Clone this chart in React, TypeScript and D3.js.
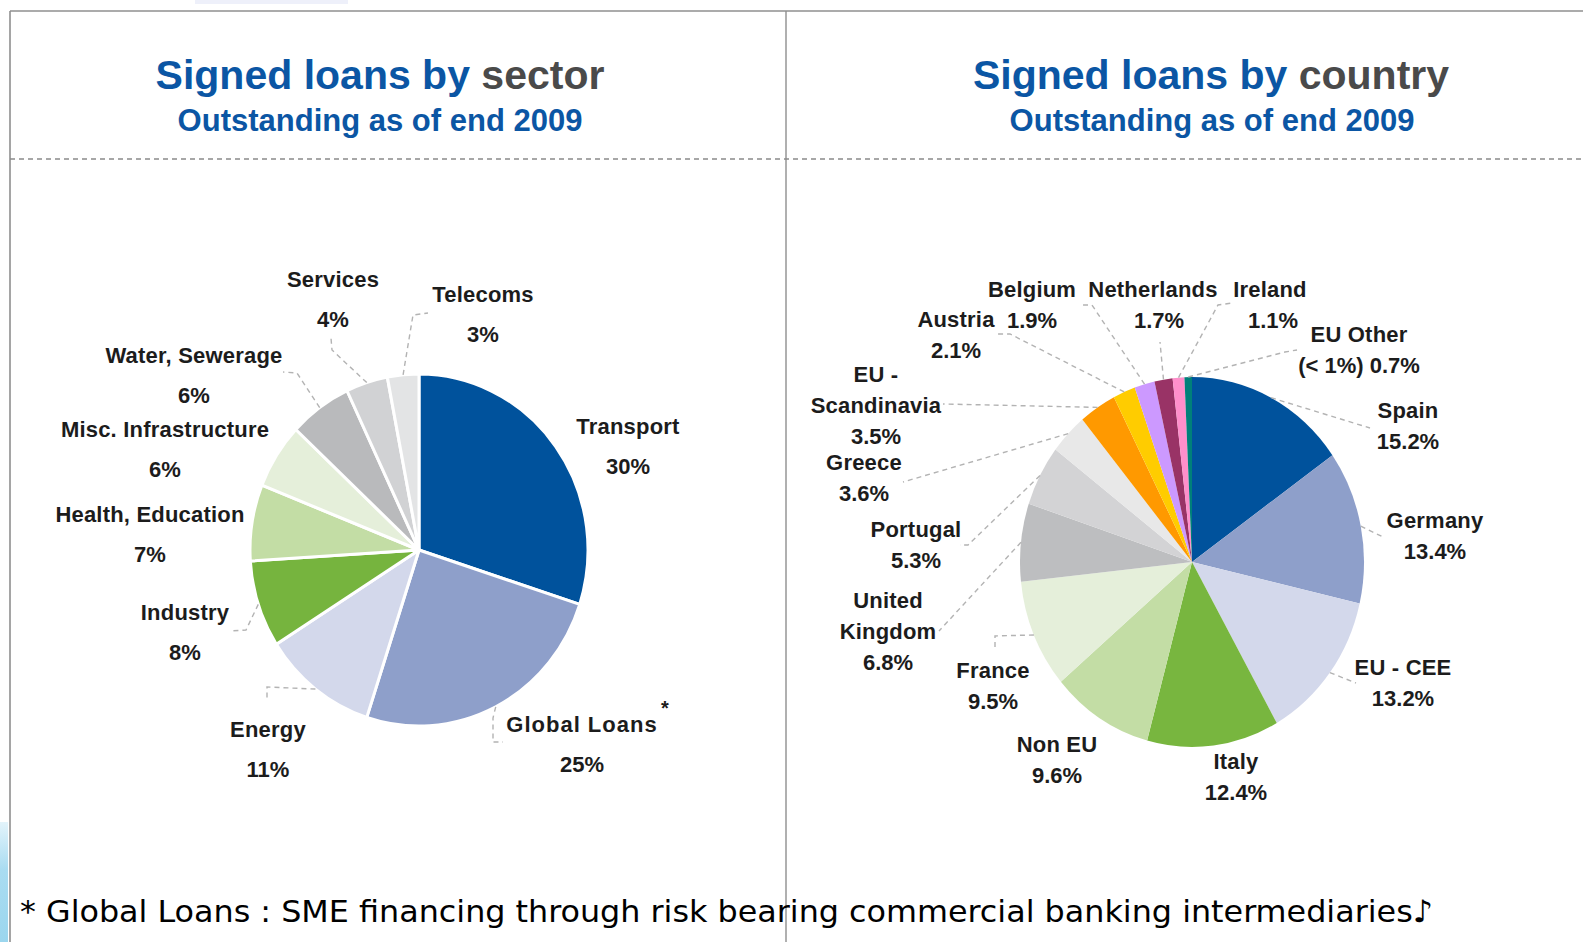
import React from "react";
import * as d3 from "d3";

// ---------- data ----------
const sectorNames = [
  "Transport",
  "Global Loans",
  "Energy",
  "Industry",
  "Health, Education",
  "Misc. Infrastructure",
  "Water, Sewerage",
  "Services",
  "Telecoms",
];
const sectorValues = [30, 25, 11, 8, 7, 6, 6, 4, 3];
const sectorColors = [
  "#00529C", "#8E9FCA", "#D3D8EB", "#76B43E", "#C3DDA5",
  "#E5EFDA", "#B9BABC", "#D1D2D4", "#E3E4E5",
];

const countryNames = [
  "Spain", "Germany", "EU - CEE", "Italy", "Non EU", "France",
  "United Kingdom", "Portugal", "Greece", "EU - Scandinavia",
  "Austria", "Belgium", "Netherlands", "Ireland", "EU Other",
];
const countryValues = [15.2, 13.4, 13.2, 12.4, 9.6, 9.5, 6.8, 5.3, 3.6, 3.5, 2.1, 1.9, 1.7, 1.1, 0.7];
const countryColors = [
  "#00529C", "#8E9FCA", "#D3D8EB", "#78B63F", "#C3DDA5", "#E5EFDA",
  "#BDBEC0", "#D3D3D5", "#E8E8E8", "#FF9900", "#FFCC00", "#CC99FF",
  "#993366", "#FF8FCB", "#00807A",
];

// label text lines (value line appended)
const sectorLabelLines: string[][] = [
  ["Transport"], ["Global Loans"], ["Energy"], ["Industry"], ["Health, Education"],
  ["Misc. Infrastructure"], ["Water, Sewerage"], ["Services"], ["Telecoms"],
];
const countryLabelLines: string[][] = [
  ["Spain"], ["Germany"], ["EU - CEE"], ["Italy"], ["Non EU"], ["France"],
  ["United", "Kingdom"], ["Portugal"], ["Greece"], ["EU -", "Scandinavia"],
  ["Austria"], ["Belgium"], ["Netherlands"], ["Ireland"], ["EU Other"],
];
const countryValueText = [
  "15.2%", "13.4%", "13.2%", "12.4%", "9.6%", "9.5%", "6.8%", "5.3%", "3.6%",
  "3.5%", "2.1%", "1.9%", "1.7%", "1.1%", "(< 1%) 0.7%",
];

// ---------- layout (positions) ----------
type Lay = { x: number; y: number; vx?: number; leader?: number[][] };
const sectorLayout: Lay[] = [
  { x: 628, y: 434 },
  { x: 582, y: 732, leader: [[493, 718], [493, 742], [503, 742]] },
  { x: 268, y: 737, leader: [[267, 687], [267, 698]] },
  { x: 185, y: 620, leader: [[246, 630], [230, 631]] },
  { x: 150, y: 522 },
  { x: 165, y: 437 },
  { x: 194, y: 363, leader: [[297, 373], [283, 372]] },
  { x: 333, y: 287, leader: [[332, 350], [331, 338]] },
  { x: 483, y: 302, leader: [[413, 315], [428, 313]] },
];
const countryLayout: Lay[] = [
  { x: 1408, y: 418, leader: [[1370, 428]] },
  { x: 1435, y: 528, leader: [[1383, 537]] },
  { x: 1403, y: 675, leader: [[1356, 683]] },
  { x: 1236, y: 769 },
  { x: 1057, y: 752 },
  { x: 993, y: 678, leader: [[995, 636], [995, 650]] },
  { x: 888, y: 608, leader: [[939, 631]] },
  { x: 916, y: 537, leader: [[968, 545], [960, 545]] },
  { x: 864, y: 470, leader: [[903, 482]] },
  { x: 876, y: 382, leader: [[943, 404]] },
  { x: 956, y: 327, leader: [[1010, 334], [997, 334]] },
  { x: 1032, y: 297, leader: [[1092, 305], [1082, 305]] },
  { x: 1153, y: 297, vx: 1159, leader: [[1160, 342]] },
  { x: 1270, y: 297, vx: 1273, leader: [[1218, 305], [1232, 303]] },
  { x: 1359, y: 342, leader: [[1285, 352], [1297, 350]] },
];

const FONT = "'Liberation Sans', Arial, Helvetica, sans-serif";
const BLUE = "#0B56A4";
const TEXT = "#1c1c1c";

type PieProps = {
  values: number[];
  colors: string[];
  cx: number;
  cy: number;
  rx: number;
  ry: number;
  stroke: string;
  strokeWidth: number;
  layout: Lay[];
  lines: string[][];
  valueText: string[];
  lineGap: number;
  superscript?: number;
};

function Pie(p: PieProps) {
  const pie = d3.pie<number>().sort(null).value((d) => d).startAngle(0).endAngle(2 * Math.PI);
  const arcs = pie(p.values);
  const arc = d3.arc<d3.PieArcDatum<number>>().innerRadius(0).outerRadius(p.ry);
  const sx = p.rx / p.ry;
  const line = d3.line();
  return (
    <g>
      <g transform={`translate(${p.cx},${p.cy}) scale(${sx},1)`}>
        {arcs.map((a, i) => (
          <path
            key={i}
            d={arc(a) || ""}
            fill={p.colors[i]}
            stroke={p.stroke}
            strokeWidth={p.strokeWidth}
            vectorEffect="non-scaling-stroke"
            strokeLinejoin="round"
          />
        ))}
      </g>
      {arcs.map((a, i) => {
        const L = p.layout[i];
        if (!L.leader) return null;
        const m = (a.startAngle + a.endAngle) / 2;
        const anchor: [number, number] = [p.cx + p.rx * Math.sin(m), p.cy - p.ry * Math.cos(m)];
        const pts = [anchor, ...(L.leader as [number, number][])];
        return (
          <path
            key={"l" + i}
            d={line(pts) || ""}
            fill="none"
            stroke="#b3b3b3"
            strokeWidth={1.4}
            strokeDasharray="5,4"
          />
        );
      })}
      {arcs.map((a, i) => {
        const L = p.layout[i];
        const ls = p.lines[i];
        return (
          <g key={"t" + i} fontFamily={FONT} fontWeight="bold" fontSize={22} fill={TEXT} textAnchor="middle">
            {ls.map((s, j) => (
              <text key={j} x={L.x} y={L.y + j * p.lineGap} letterSpacing={p.superscript === i ? 1 : 0.2}>
                {s}
              </text>
            ))}
            {p.superscript === i && (
              <text x={L.x + 83} y={L.y - 17} fontSize={20}>*</text>
            )}
            <text x={L.vx ?? L.x} y={L.y + ls.length * p.lineGap}>{p.valueText[i]}</text>
          </g>
        );
      })}
    </g>
  );
}

export default function App() {
  const sectorValueText = sectorValues.map((v) => `${v}%`);
  return (
    <svg
      width={1583}
      height={942}
      viewBox="0 0 1583 942"
      style={{ position: "absolute", left: 0, top: 0, background: "#fff" }}
    >
      <defs>
        <linearGradient id="sideBar" x1="0" y1="0" x2="0" y2="1">
          <stop offset="0" stopColor="#e3f4fb" />
          <stop offset="0.4" stopColor="#a9dcf1" />
          <stop offset="1" stopColor="#9bd6ee" />
        </linearGradient>
      </defs>
      <rect x={0} y={0} width={1583} height={942} fill="#fff" />
      <rect x={195} y={0} width={153} height={4} fill="#eef0fa" />
      <rect x={0} y={822} width={8} height={120} fill="url(#sideBar)" />

      {/* frame */}
      <line x1={10} y1={11} x2={1583} y2={11} stroke="#8f8f8f" strokeWidth={1.6} />
      <line x1={10} y1={11} x2={10} y2={942} stroke="#8f8f8f" strokeWidth={1.6} />
      <line x1={786} y1={11} x2={786} y2={942} stroke="#8f8f8f" strokeWidth={1.4} />
      <line x1={10} y1={159} x2={1583} y2={159} stroke="#8a8a8a" strokeWidth={1.3} strokeDasharray="5,4" />

      {/* titles */}
      <g fontFamily={FONT} fontWeight="bold" textAnchor="middle">
        <text x={380} y={89} fontSize={41} fill={BLUE}>
          Signed loans by <tspan fill="#4a4a4a">sector</tspan>
        </text>
        <text x={380} y={131} fontSize={31} fill={BLUE}>Outstanding as of end 2009</text>
        <text x={1211} y={89} fontSize={41} fill={BLUE}>
          Signed loans by <tspan fill="#4a4a4a">country</tspan>
        </text>
        <text x={1212} y={131} fontSize={31} fill={BLUE}>Outstanding as of end 2009</text>
      </g>

      <Pie
        values={sectorValues}
        colors={sectorColors}
        cx={419}
        cy={550}
        rx={169}
        ry={176}
        stroke="#ffffff"
        strokeWidth={3}
        layout={sectorLayout}
        lines={sectorLabelLines}
        valueText={sectorValueText}
        lineGap={40}
        superscript={1}
      />
      <Pie
        values={countryValues}
        colors={countryColors}
        cx={1192}
        cy={562}
        rx={172}
        ry={185}
        stroke="none"
        strokeWidth={0}
        layout={countryLayout}
        lines={countryLabelLines}
        valueText={countryValueText}
        lineGap={31}
      />

      <text
        x={20}
        y={922}
        fontFamily="'DejaVu Sans Condensed', 'DejaVu Sans', Verdana, sans-serif"
        fontSize={31}
        fill="#000"
        textLength={1413}
        lengthAdjust="spacingAndGlyphs"
      >
        * Global Loans : SME financing through risk bearing commercial banking intermediaries♪
      </text>
    </svg>
  );
}
